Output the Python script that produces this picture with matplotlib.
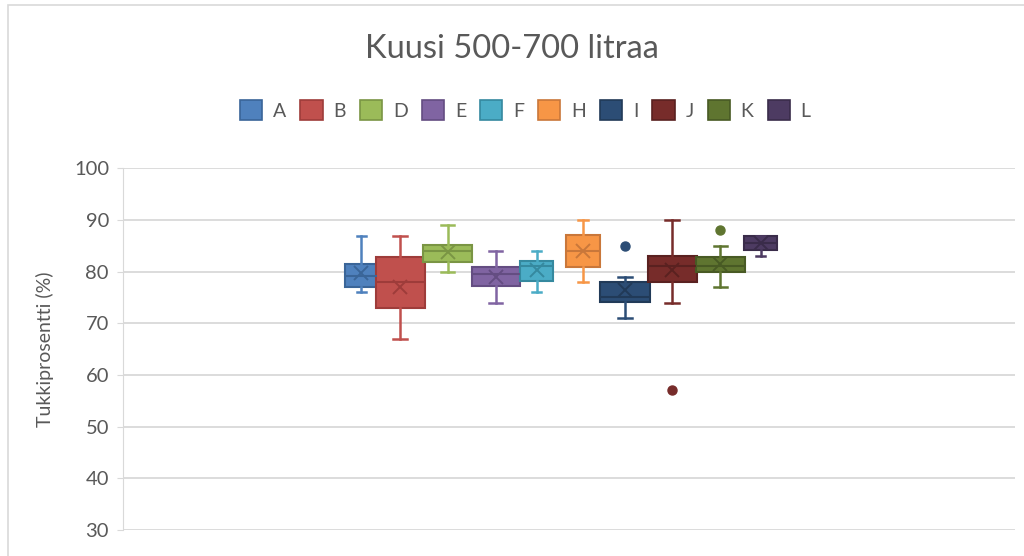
import matplotlib
matplotlib.use("Agg")
import matplotlib.pyplot as plt
from matplotlib.patches import Patch, Rectangle

plt.rcParams['font.family'] = ['Lato', 'DejaVu Sans']

# data
labels = ['A', 'B', 'D', 'E', 'F', 'H', 'I', 'J', 'K', 'L']
whislo = [76, 67, 80, 74, 76, 78, 71, 74, 77, 83]
q1 = [77.1, 73.0, 81.9, 77.2, 78.2, 81.0, 74.2, 78.1, 80.0, 84.3]
med = [79.2, 78.0, 84.1, 79.5, 81.1, 84.1, 75.2, 81.1, 81.1, 85.6]
q3 = [81.5, 82.8, 85.1, 81.0, 82.1, 87.1, 78.1, 83.0, 82.8, 87.0]
whishi = [87, 87, 89, 84, 84, 90, 79, 90, 85, 87]
means = [79.7, 77.1, 83.9, 79.0, 80.3, 84.0, 76.5, 80.3, 81.4, 85.6]
fliers = [[], [], [], [], [], [], [85], [57], [88], []]

# layout / style
positions = [26.7, 31.1, 36.4, 41.8, 46.4, 51.6, 56.3, 61.6, 67.0, 71.5]
widths = [3.6, 5.5, 5.5, 5.4, 3.7, 3.8, 5.5, 5.5, 5.5, 3.7]
fills = ['#4F81BD', '#C0504D', '#9BBB59', '#8064A2', '#4BACC6',
         '#F79646', '#2C4D75', '#772C2A', '#5F7530', '#4D3B62']
edges = ['#3A6598', '#9E3C3A', '#7A9544', '#644D82', '#35899F',
         '#C9773A', '#213A58', '#5A2120', '#485A24', '#3A2C4A']
textc = '#595959'

fig = plt.figure(figsize=(10.24, 5.56), dpi=100)
ax = fig.add_axes([0.120, 0.047, 0.871, 0.650])

for i in range(len(labels)):
    st = dict(label=labels[i], whislo=whislo[i], q1=q1[i], med=med[i],
              q3=q3[i], whishi=whishi[i], mean=means[i], fliers=fliers[i])
    ax.bxp([st], positions=[positions[i]], widths=[widths[i]],
           capwidths=[widths[i] * 0.28], patch_artist=True,
           showmeans=True, manage_ticks=False,
           boxprops=dict(facecolor=fills[i], edgecolor=edges[i], linewidth=1.5),
           whiskerprops=dict(color=fills[i], linewidth=1.8),
           capprops=dict(color=fills[i], linewidth=1.8),
           medianprops=dict(color=edges[i], linewidth=1.5),
           meanprops=dict(marker='x', markersize=10, markeredgewidth=1.4,
                          markeredgecolor=edges[i]),
           flierprops=dict(marker='o', markersize=6.5, markerfacecolor=fills[i],
                           markeredgecolor=fills[i]))

ax.set_xlim(0, 100)
ax.set_ylim(30, 100)
ax.set_yticks(range(30, 101, 10))
ax.set_xticks([])
ax.yaxis.grid(True, color='#D9D9D9', linewidth=1.3)
ax.set_axisbelow(True)
for s in ['top', 'right', 'bottom']:
    ax.spines[s].set_visible(False)
ax.spines['left'].set_color('#D9D9D9')
ax.tick_params(axis='y', colors='#D9D9D9', labelcolor=textc, labelsize=14.5,
               length=4, pad=6)
ax.set_ylabel('Tukkiprosentti (%)', fontsize=14, color=textc, labelpad=14)

fig.text(0.5, 0.912, 'Kuusi 500-700 litraa', ha='center', va='center',
         fontsize=23.5, color=textc)

handles = [Patch(facecolor=fills[i], edgecolor=edges[i], linewidth=1.2)
           for i in range(len(labels))]
fig.legend(handles, labels, loc='center', bbox_to_anchor=(0.513, 0.802),
           ncol=10, frameon=False, fontsize=14, labelcolor=textc,
           handlelength=1.15, handleheight=1.15, handletextpad=0.55,
           columnspacing=0.72)

# outer chart border
fig.patches.append(Rectangle((0.008, -0.1), 1.2, 1.091, transform=fig.transFigure,
                             fill=False, edgecolor='#D9D9D9', linewidth=1.2))

fig.savefig('out.png', dpi=100)
